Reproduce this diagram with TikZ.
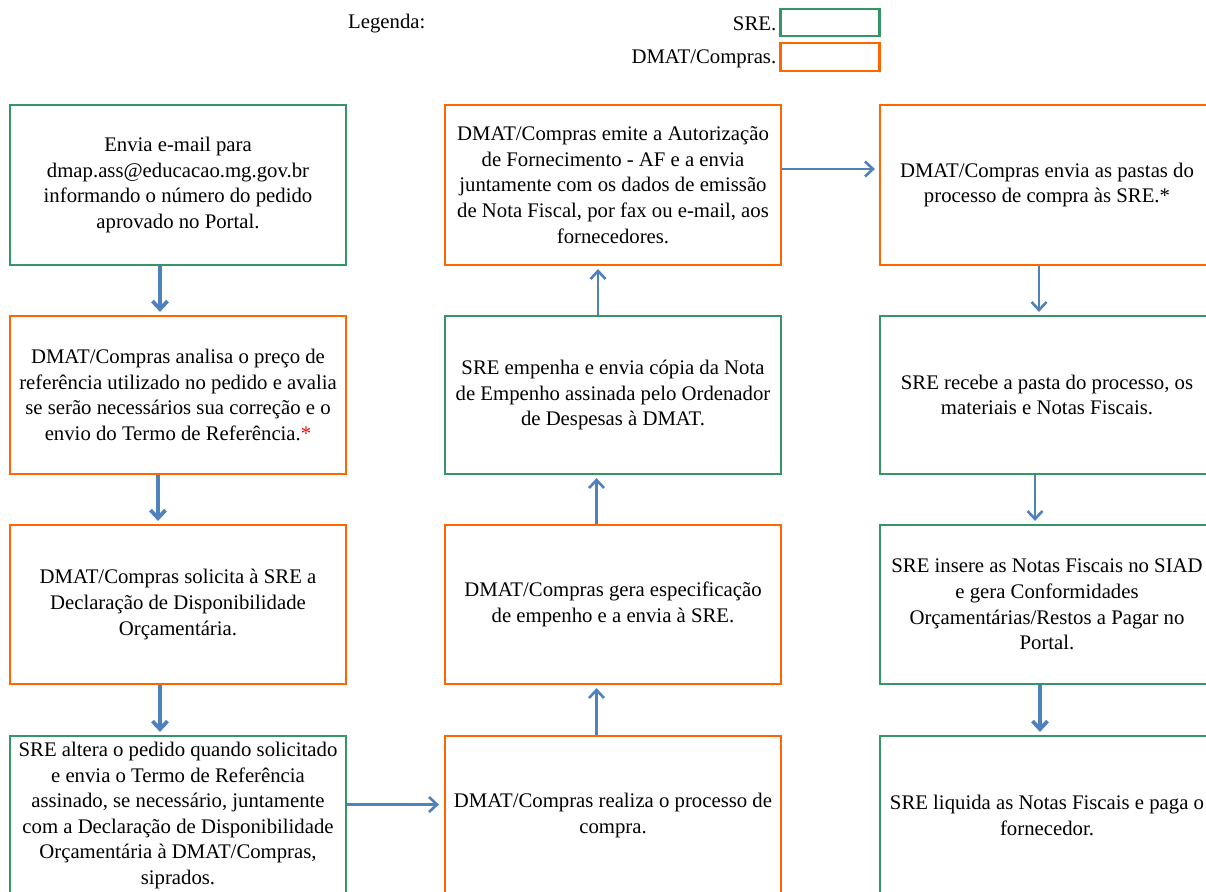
\documentclass[tikz,border=0pt]{standalone}
\usepackage{fontspec}
\setmainfont{Liberation Serif}
\usetikzlibrary{arrows.meta}

\definecolor{sregreen}{RGB}{52,150,100}
\definecolor{dmatorange}{RGB}{255,102,0}
\definecolor{flowblue}{RGB}{79,129,189}

\tikzset{
  box/.style={draw, line width=2.2pt, align=center, inner sep=2pt,
    font=\fontsize{20.75}{25.6}\selectfont},
  srebox/.style={box, draw=sregreen},
  dmatbox/.style={box, draw=dmatorange},
  colA/.style={minimum width=336pt},
  colB/.style={minimum width=336pt},
  colC/.style={minimum width=334pt},
  flow/.style={draw=flowblue, line width=2.6pt,
    -{Straight Barb[length=8pt,width=15pt]}, shorten >=3pt},
  flowthick/.style={flow, line width=3.8pt},
  legtext/.style={font=\fontsize{20.75}{26}\selectfont, inner sep=0pt}
}

\begin{document}
\begin{tikzpicture}[x=1pt, y=-1pt]
\useasboundingbox (0,0) rectangle (1206,891);
\begin{scope}
\clip (0,0) rectangle (1206,891);

% legend
\node[legtext, anchor=west] (leg) at (348,24) {Legenda:};
\node[draw=sregreen, line width=2.2pt, minimum width=99pt, minimum height=27pt, inner sep=0pt] (legsre) at (830,22.5) {};
\node[draw=dmatorange, line width=2.2pt, minimum width=99pt, minimum height=28pt, inner sep=0pt] (legdmat) at (830,57) {};
\node[legtext, anchor=east] (legsretxt) at ([xshift=-3pt,yshift=-1.5pt]legsre.west) {SRE.};
\node[legtext, anchor=east] (legdmattxt) at ([xshift=-3pt,yshift=-1.5pt]legdmat.west) {DMAT/Compras.};

% first column
\node[srebox, colA, minimum height=160pt] (a1) at (178,185)
  {Envia e-mail para\\dmap.ass@educacao.mg.gov.br\\informando o número do pedido\\aprovado no Portal.};
\node[dmatbox, colA, minimum height=158pt] (a2) at (178,395)
  {DMAT/Compras analisa o preço de\\referência utilizado no pedido e avalia\\se serão necessários sua correção e o\\envio do Termo de Referência.{\color{red}*}};
\node[dmatbox, colA, minimum height=159pt] (a3) at (178,604.5)
  {DMAT/Compras solicita à SRE a\\Declaração de Disponibilidade\\Orçamentária.};
\node[srebox, colA, minimum height=159pt] (a4) at (178,815.5)
  {SRE altera o pedido quando solicitado\\e envia o Termo de Referência\\assinado, se necessário, juntamente\\com a Declaração de Disponibilidade\\Orçamentária à DMAT/Compras,\\siprados.};

% second column
\node[dmatbox, colB, minimum height=160pt] (b1) at (613,185)
  {DMAT/Compras emite a Autorização\\de Fornecimento - AF e a envia\\juntamente com os dados de emissão\\de Nota Fiscal, por fax ou e-mail, aos\\fornecedores.};
\node[srebox, colB, minimum height=158pt] (b2) at (613,395)
  {SRE empenha e envia cópia da Nota\\de Empenho assinada pelo Ordenador\\de Despesas à DMAT.};
\node[dmatbox, colB, minimum height=159pt] (b3) at (613,604.5)
  {DMAT/Compras gera especificação\\de empenho e a envia à SRE.};
\node[dmatbox, colB, minimum height=159pt] (b4) at (613,815.5)
  {DMAT/Compras realiza o processo de\\compra.};

% third column
\node[dmatbox, colC, minimum height=160pt] (c1) at (1047,185)
  {DMAT/Compras envia as pastas do\\processo de compra às SRE.*};
\node[srebox, colC, minimum height=158pt] (c2) at (1047,395)
  {SRE recebe a pasta do processo, os\\materiais e Notas Fiscais.};
\node[srebox, colC, minimum height=159pt] (c3) at (1047,604.5)
  {SRE insere as Notas Fiscais no SIAD\\e gera Conformidades\\Orçamentárias/Restos a Pagar no\\Portal.};
\node[srebox, colC, minimum height=159pt] (c4) at (1047,815.5)
  {SRE liquida as Notas Fiscais e paga o\\fornecedor.};

% connectors
\draw[flowthick] ([xshift=-18pt]a1.south) -- ([xshift=-18pt]a2.north);
\draw[flowthick] ([xshift=-20pt]a2.south) -- ([xshift=-20pt]a3.north);
\draw[flowthick] ([xshift=-18pt]a3.south) -- ([xshift=-18pt]a4.north);
\draw[flow, shorten >=5pt] ([yshift=11pt]a4.east) -- ([yshift=11pt]b4.west);
\draw[flow] ([xshift=-16.5pt]b4.north) -- ([xshift=-16.5pt]b3.south);
\draw[flow] ([xshift=-16.5pt]b3.north) -- ([xshift=-16.5pt]b2.south);
\draw[flow] ([xshift=-15pt]b2.north) -- ([xshift=-15pt]b1.south);
\draw[flow, shorten >=4pt] ([yshift=16pt]b1.east) -- ([yshift=16pt]c1.west);
\draw[flow] ([xshift=-8pt]c1.south) -- ([xshift=-8pt]c2.north);
\draw[flow] ([xshift=-12pt]c2.south) -- ([xshift=-12pt]c3.north);
\draw[flowthick] ([xshift=-7pt]c3.south) -- ([xshift=-7pt]c4.north);
\end{scope}
\end{tikzpicture}
\end{document}
